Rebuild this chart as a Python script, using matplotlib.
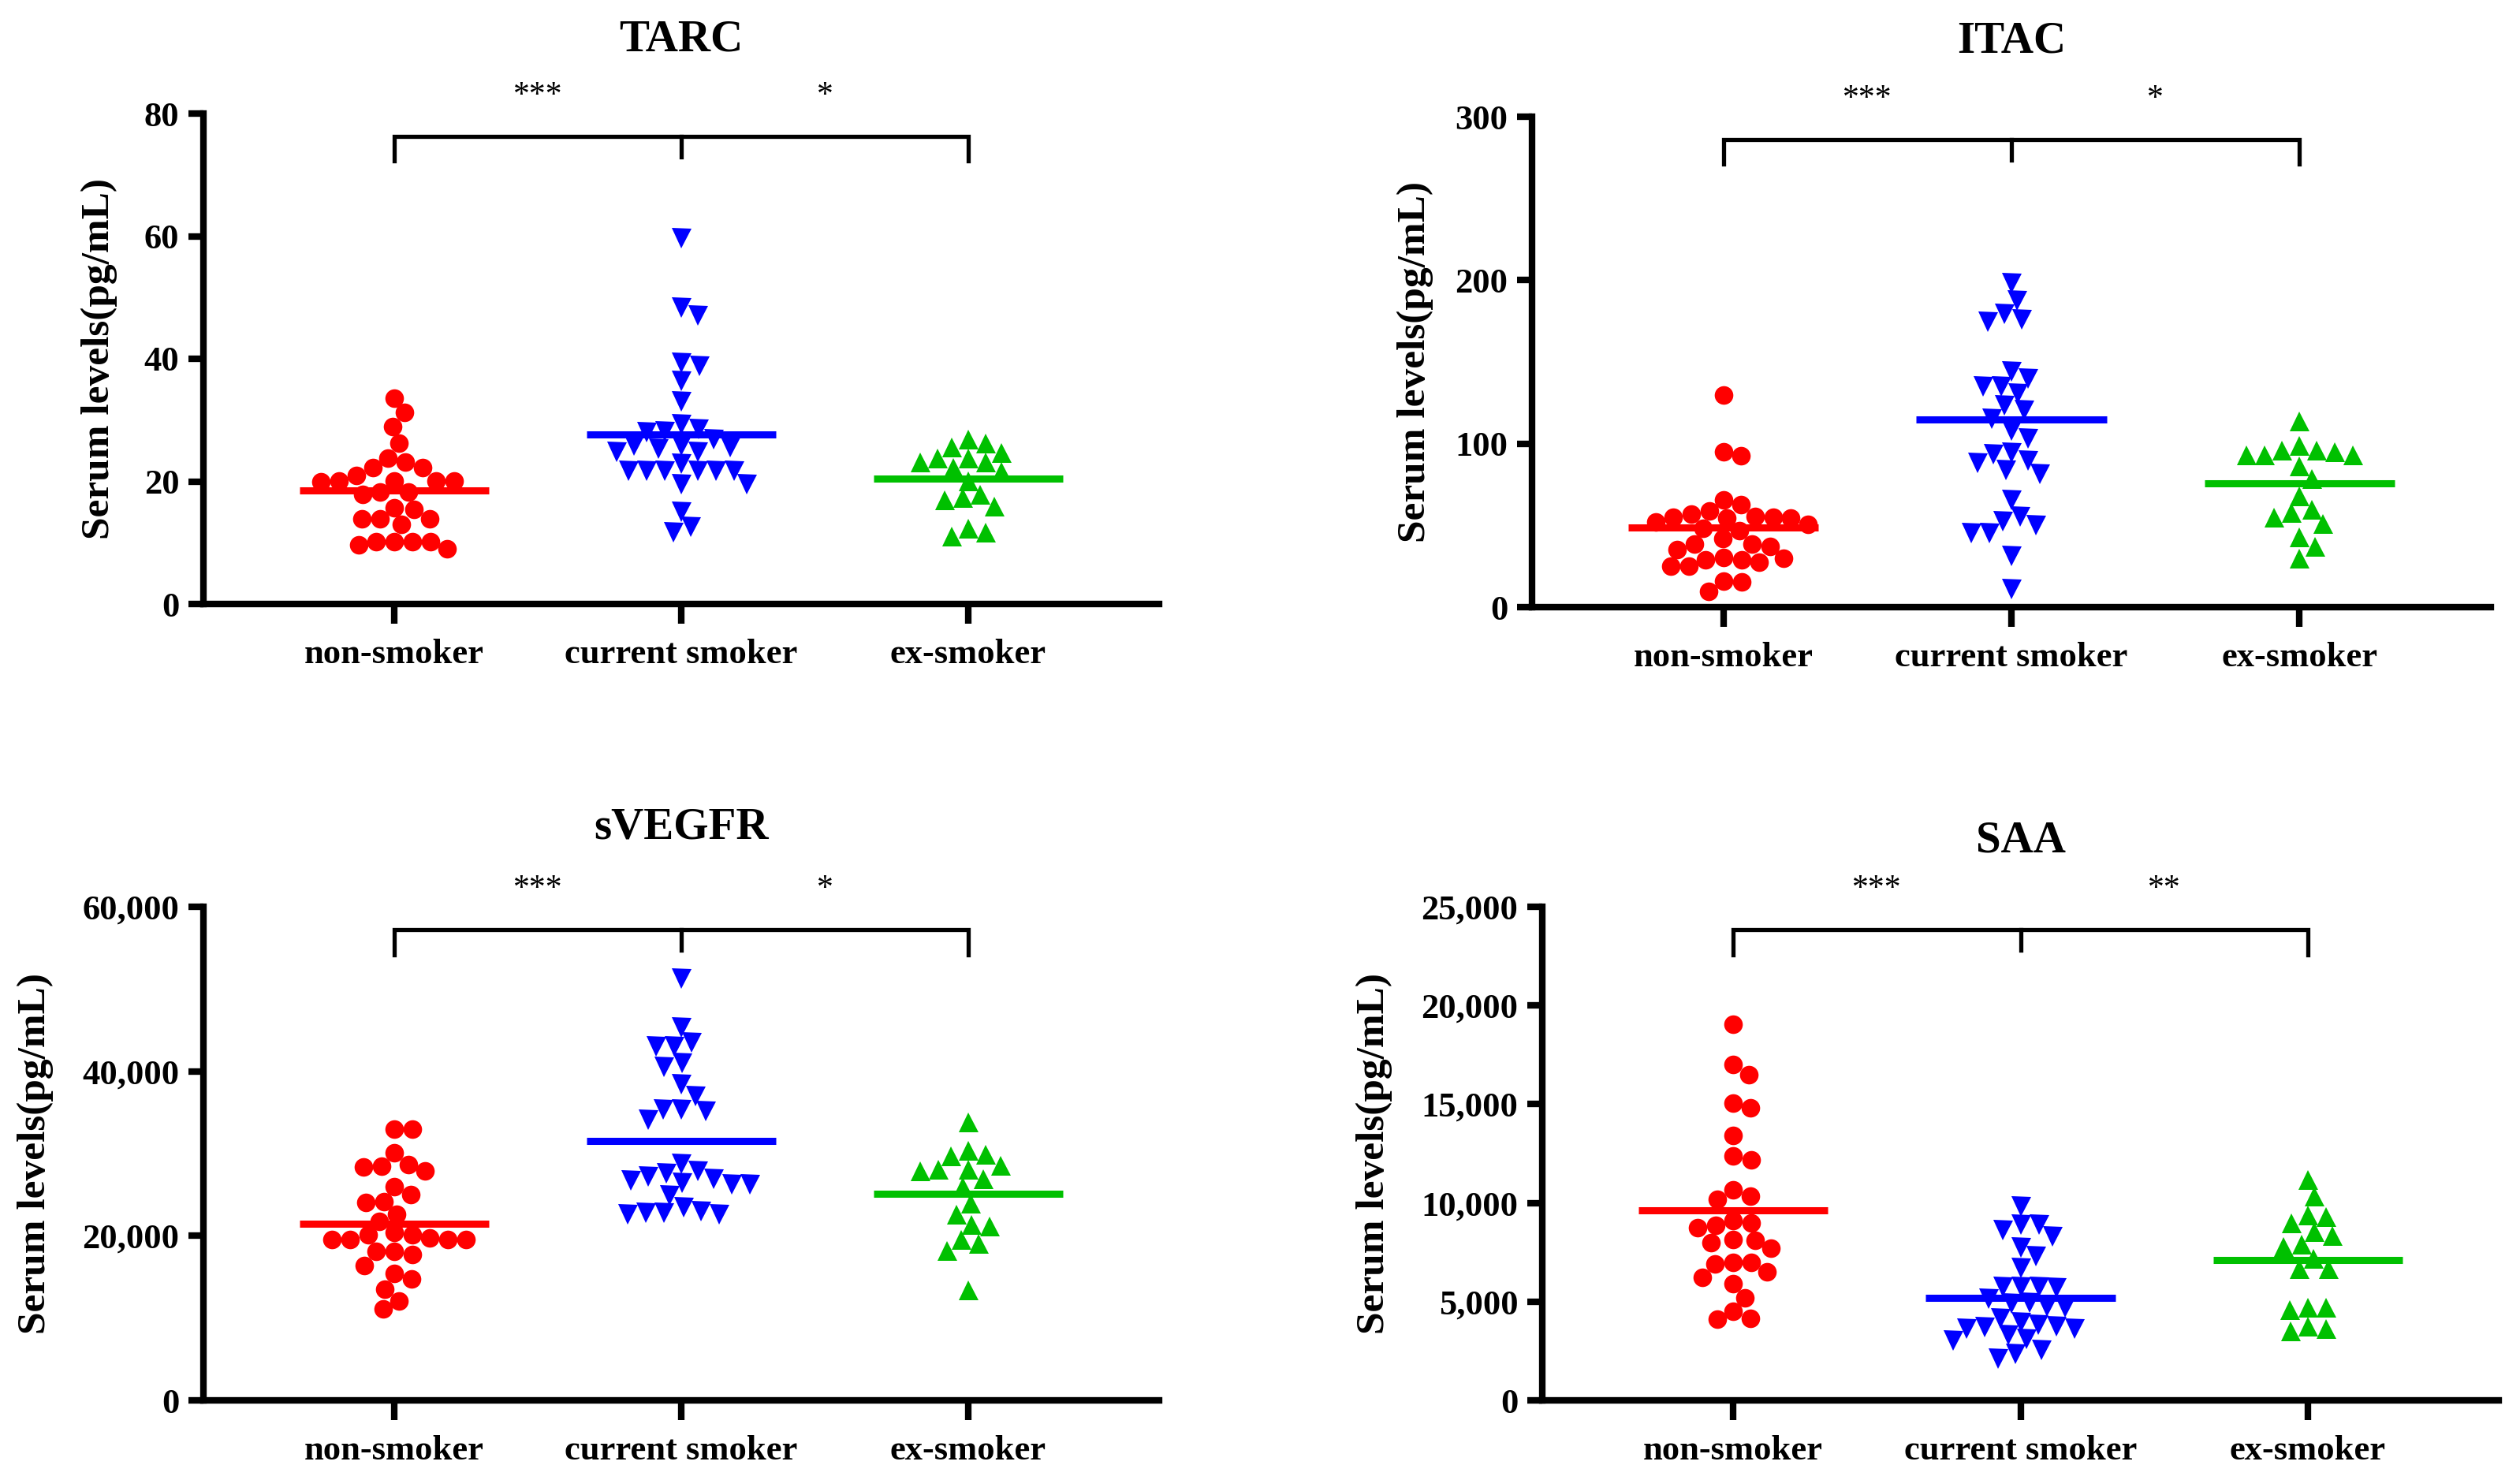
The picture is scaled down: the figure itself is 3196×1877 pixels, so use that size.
import numpy as np
import matplotlib
matplotlib.use("Agg")
import matplotlib.pyplot as plt
from matplotlib.ticker import FuncFormatter

plt.rcParams['font.family'] = ['Liberation Serif', 'DejaVu Serif']

groups = ["non-smoker", "current smoker", "ex-smoker"]
colors = ["#FF0000", "#0000FF", "#00C000"]
markers = ["o", "v", "^"]

# ---------------- TARC (pg/mL) ----------------
tarc_non = [33.6, 31.2, 29.0, 26.2, 23.1, 23.8, 22.2, 22.2, 21.0, 20.1, 20.1, 20.1, 20.1, 20.0,
            18.2, 18.2, 17.9, 15.7, 15.4, 13.9, 13.9, 13.9, 13.0, 10.2, 10.2, 10.2, 10.2, 9.6, 9.0]
tarc_cur = [59.7, 48.4, 47.1, 39.4, 38.9, 36.4, 33.1, 29.3, 28.5, 28.2, 28.0, 26.9, 25.9, 25.9,
            25.6, 25.4, 24.8, 24.8, 22.9, 21.8, 21.8, 21.8, 21.8, 21.8, 21.8, 19.6, 19.6, 15.1, 12.6, 11.7]
tarc_ex = [26.9, 26.2, 25.6, 24.7, 23.8, 23.8, 23.1, 23.1, 22.2, 21.6, 20.1, 17.9, 17.3, 17.0,
           16.0, 12.3, 11.7, 11.1]
tarc_lines = [18.5, 27.6, 20.4]

# ---------------- ITAC (pg/mL) ----------------
itac_non = [129.9, 94.9, 92.5, 65.6, 62.7, 58.7, 57.1, 55.5, 55.0, 55.0, 54.5, 54.7, 52.2, 50.7,
            48.2, 46.6, 41.8, 38.6, 38.6, 37.0, 35.4, 30.5, 29.8, 28.9, 28.9, 27.3, 24.9, 24.9,
            16.1, 15.3, 9.6]
itac_cur = [198.0, 187.4, 179.4, 176.1, 174.5, 144.0, 140.0, 134.9, 134.9, 130.9, 123.6, 120.4,
            115.5, 108.2, 103.4, 94.5, 93.7, 89.7, 88.1, 84.0, 81.6, 65.4, 55.7, 52.5, 50.1,
            45.2, 45.2, 31.5, 11.3]
itac_ex = [114.0, 99.0, 96.0, 96.0, 95.0, 93.0, 93.0, 93.0, 86.5, 78.5, 68.0, 60.0, 58.0, 55.0,
           51.0, 43.0, 37.0, 30.0]
itac_lines = [48.5, 114.8, 75.5]

# ---------------- sVEGFR (pg/mL) ----------------
svegfr_non = [33000, 33000, 30100, 28700, 28500, 28400, 27900, 26000, 25000, 24200, 24100,
              22600, 21800, 20400, 20100, 20100, 19700, 19600, 19600, 19600, 19600, 18100,
              18100, 17700, 16400, 15400, 14800, 13500, 12100, 11100]
svegfr_cur = [51300, 45300, 43500, 43000, 43000, 41000, 40500, 38400, 37000, 35400, 35400,
              35200, 34100, 28800, 27900, 27600, 27200, 26900, 26700, 26500, 26300, 26300,
              24900, 23500, 23000, 22800, 22800, 22600, 22600]
svegfr_ex = [33800, 30400, 29900, 29700, 28600, 28100, 28100, 27900, 26900, 26000, 24000,
             22600, 21400, 21200, 19600, 19100, 18200, 13400]
svegfr_lines = [21500, 31500, 25100]

# ---------------- SAA (pg/mL) ----------------
saa_non = [19060, 17000, 16500, 15050, 14800, 13400, 12400, 12200, 10650, 10350, 10200, 9100,
           9000, 8850, 8750, 8150, 8100, 7970, 7700, 7000, 7000, 6900, 6500, 6250, 5900, 5200,
           4500, 4150, 4100]
saa_cur = [9820, 8890, 8890, 8630, 8290, 7760, 7300, 6700, 5760, 5760, 5760, 5700, 5160, 4960,
           4900, 4760, 4700, 4170, 3970, 3830, 3770, 3700, 3630, 3630, 3300, 3100, 3030, 2570,
           2370, 2100]
saa_ex = [11200, 10350, 9400, 9300, 9000, 8550, 8350, 7900, 7800, 7200, 6650, 6650, 4700,
          4700, 4600, 3750, 3650, 3500]
saa_lines = [9640, 5200, 7110]

panels = [
    dict(title="TARC", data=[tarc_non, tarc_cur, tarc_ex], lines=tarc_lines,
         ymax=80, ticks=[0, 20, 40, 60, 80], stars=["***", "*"]),
    dict(title="ITAC", data=[itac_non, itac_cur, itac_ex], lines=itac_lines,
         ymax=300, ticks=[0, 100, 200, 300], stars=["***", "*"]),
    dict(title="sVEGFR", data=[svegfr_non, svegfr_cur, svegfr_ex], lines=svegfr_lines,
         ymax=60000, ticks=[0, 20000, 40000, 60000], stars=["***", "*"]),
    dict(title="SAA", data=[saa_non, saa_cur, saa_ex], lines=saa_lines,
         ymax=25000, ticks=[0, 5000, 10000, 15000, 20000, 25000], stars=["***", "**"]),
]

W, H = 3196, 1877
DPI = 100
fig = plt.figure(figsize=(W / DPI, H / DPI), dpi=DPI)

# axes rectangles in pixels: left, top, right, bottom
rects_px = [(258, 144, 1470, 766), (1943, 148, 3159, 770),
            (258, 1150, 1470, 1776), (1956, 1150, 3169, 1776)]
ylabel_x = [-0.109, -0.122, -0.176, -0.176]
title_pad = [57, 59, 62, 50]

XMIN, XMAX = -0.665, 2.665


def swarm_offsets(vals, px_per_y, px_per_x, d):
    ys = np.asarray(vals, dtype=float) * px_per_y
    order = np.argsort(-ys)
    placed = []
    xs = np.zeros(len(ys))
    for i in order:
        y = ys[i]
        cands = [0.0]
        for (xj, yj) in placed:
            dy = y - yj
            if abs(dy) < d:
                dx = np.sqrt(d * d - dy * dy)
                cands += [xj + dx, xj - dx]
        cands = sorted(cands, key=lambda c: (abs(c), -c))
        for c in cands:
            ok = True
            for (xj, yj) in placed:
                if (c - xj) ** 2 + (y - yj) ** 2 < d * d - 1e-6:
                    ok = False
                    break
            if ok:
                xs[i] = c
                placed.append((c, y))
                break
    return xs / px_per_x


fmt = FuncFormatter(lambda v, p: f"{int(v):,}")

for k, P in enumerate(panels):
    l, t, r, b = rects_px[k]
    ax = fig.add_axes([l / W, 1 - b / H, (r - l) / W, (b - t) / H])
    ax.set_xlim(XMIN, XMAX)
    ax.set_ylim(0, P["ymax"])
    px_per_y = (b - t) / P["ymax"]
    px_per_x = (r - l) / (XMAX - XMIN)
    for g in range(3):
        vals = P["data"][g]
        ms = 17 if markers[g] == "o" else 18
        offs = swarm_offsets(vals, px_per_y, px_per_x, 23.0)
        ax.plot(g + offs, vals, linestyle="none", marker=markers[g], markersize=ms,
                color=colors[g], markeredgewidth=0, clip_on=False, zorder=3)
        ax.plot([g - 0.33, g + 0.33], [P["lines"][g]] * 2, color=colors[g], lw=6.5,
                solid_capstyle="butt", zorder=4)
    # significance bracket
    ym = P["ymax"]
    yb = 0.953 * ym
    ax.plot([0, 0, 2, 2], [0.903 * ym, yb, yb, 0.903 * ym], color="black", lw=3.8,
            clip_on=False, solid_joinstyle="miter")
    ax.plot([1, 1], [yb, 0.912 * ym], color="black", lw=3.8, clip_on=False)
    ax.text(0.5, 1.035 * ym, P["stars"][0], ha="center", va="center", fontsize=30,
            clip_on=False)
    ax.text(1.5, 1.035 * ym, P["stars"][1], ha="center", va="center", fontsize=30,
            clip_on=False)

    for s in ["top", "right"]:
        ax.spines[s].set_visible(False)
    for s in ["left", "bottom"]:
        ax.spines[s].set_linewidth(6)
    ax.set_xticks([0, 1, 2])
    ax.set_xticklabels(groups, fontsize=32, fontweight="bold")
    ax.set_yticks(P["ticks"])
    ax.yaxis.set_major_formatter(fmt)
    for lab in ax.get_yticklabels():
        lab.set_fontsize(32)
        lab.set_fontweight("bold")
    ax.tick_params(axis="x", length=18, width=6, pad=14)
    ax.tick_params(axis="y", length=14, width=6, pad=8)
    ax.set_ylabel("Serum levels(pg/mL)", fontsize=37, fontweight="bold", va="center")
    ax.yaxis.set_label_coords(ylabel_x[k], 0.5)
    ax.set_title(P["title"], fontsize=41, fontweight="bold", pad=title_pad[k])

fig.savefig("out.png", dpi=DPI)
